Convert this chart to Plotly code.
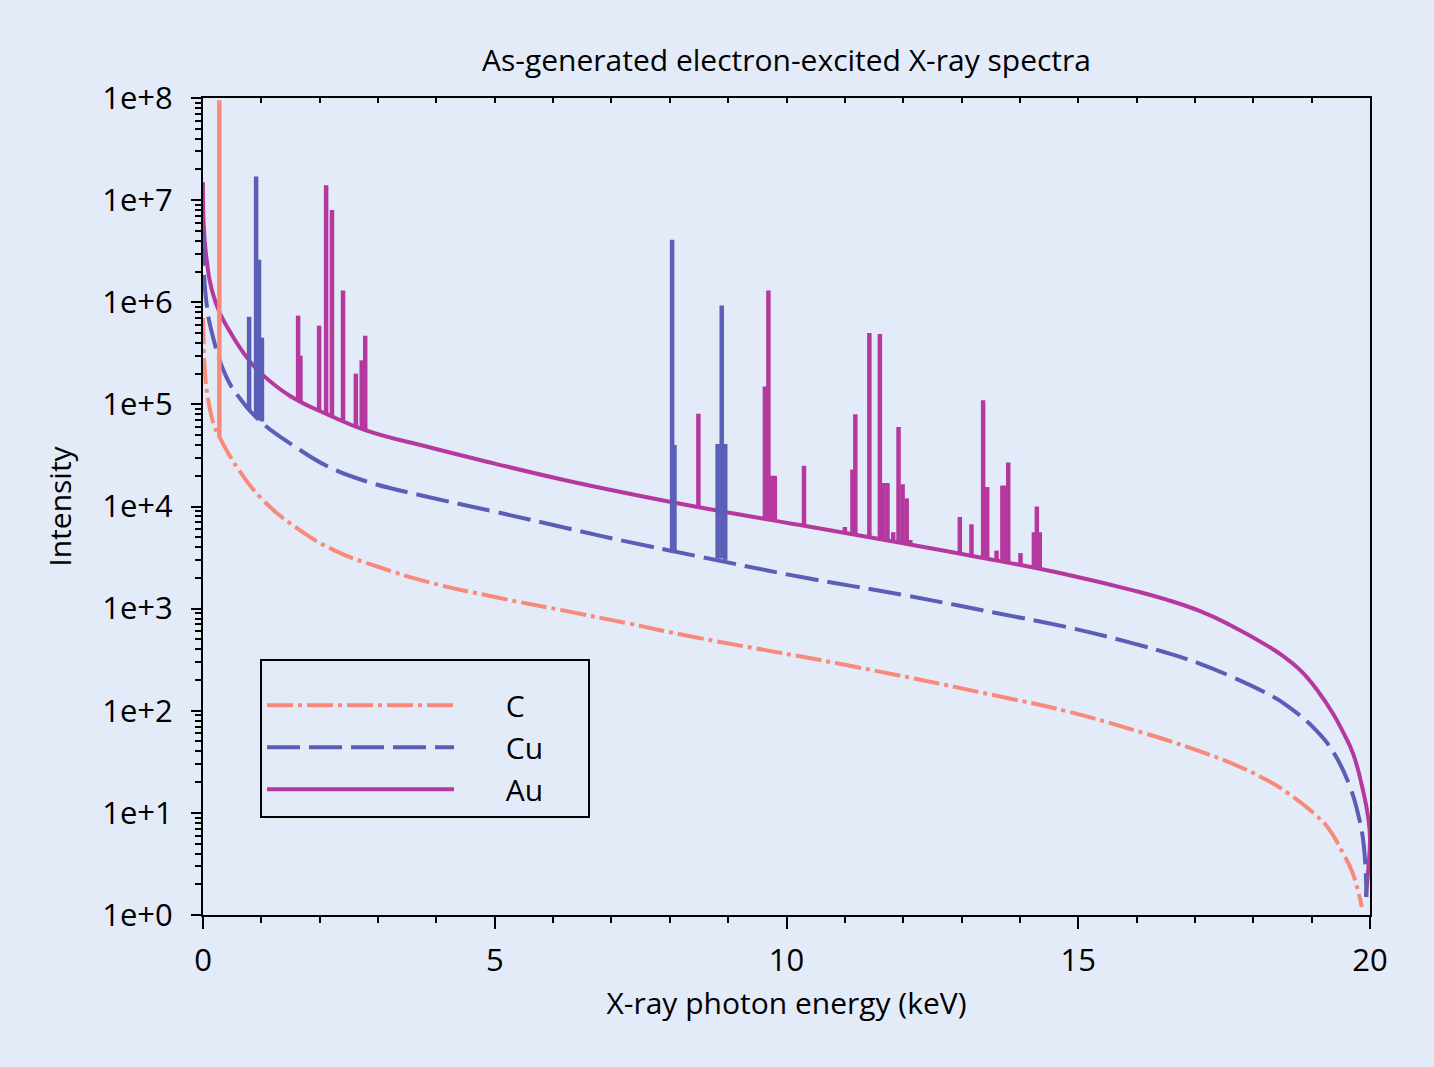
import plotly.graph_objects as go

# ---------------- data ----------------
energy_C = [0.0, 0.01, 0.03, 0.09, 0.2, 0.29, 0.45, 0.61, 1.0, 1.58, 2.26, 3.0, 3.86, 5.0,
            6.15, 7.29, 8.43, 11.0, 13.66, 14.8, 15.94, 16.5, 17.09, 17.6, 18.23, 18.6,
            19.09, 19.3, 19.54, 19.7, 19.86]
intensity_C = [7.0e5, 4.3e5, 2.2e5, 1.1e5, 6.0e4, 4.7e4, 3.2e4, 2.3e4, 1.2e4, 6.3e3, 3.7e3,
               2.57e3, 1.82e3, 1.3e3, 966, 716, 525, 282, 138, 99, 65, 52, 40, 31, 21, 15.5,
               9.3, 6.9, 4.0, 2.6, 1.2]

energy_Cu = [0.0, 0.05, 0.17, 0.4, 0.62, 0.95, 1.58, 2.15, 2.83, 3.86, 5.0, 6.15, 7.29, 8.43,
             10.23, 12.0, 13.66, 14.8, 15.94, 16.5, 17.09, 17.6, 18.23, 18.6, 19.09, 19.4,
             19.66, 19.8, 19.89, 19.94]
intensity_Cu = [4.8e6, 1.1e6, 4.6e5, 1.86e5, 1.17e5, 7.1e4, 3.85e4, 2.45e4, 1.74e4, 1.24e4,
                8.9e3, 6.3e3, 4.5e3, 3.3e3, 2.05e3, 1.36e3, 890, 660, 457, 372, 288, 219,
                148, 110, 63, 37, 17.8, 9.5, 5.0, 1.5]

energy_Au = [0.0, 0.05, 0.22, 0.45, 0.79, 1.0, 1.5, 2.15, 2.78, 3.86, 5.0, 6.15, 7.29, 8.43,
             10.23, 12.0, 13.66, 14.8, 15.94, 16.5, 17.09, 17.6, 18.23, 18.5, 18.8, 19.1,
             19.37, 19.55, 19.71, 19.88, 19.97, 20.0, 19.97, 19.93]
intensity_Au = [1.5e7, 3.0e6, 9.8e5, 5.3e5, 2.7e5, 2.0e5, 1.2e5, 7.9e4, 5.6e4, 3.82e4, 2.63e4,
                1.84e4, 1.34e4, 1.0e4, 6.58e3, 4.37e3, 2.92e3, 2.16e3, 1.51e3, 1.23e3, 944,
                692, 437, 347, 251, 158, 93, 60, 38, 16.6, 8.9, 5.6, 2.8, 1.5]

# characteristic peaks: energy, peak top, continuum base
peak_E_C = [0.28]
peak_top_C = [9.5e7]
peak_base_C = [4.8e4]

peak_E_Cu = [0.79, 0.91, 0.96, 1.01, 8.04, 8.08, 8.82, 8.89, 8.95]
peak_top_Cu = [7.2e5, 1.7e7, 2.6e6, 4.5e5, 4.1e6, 4.0e4, 4.1e4, 9.3e5, 4.1e4]
peak_base_Cu = [9.0e4, 7.5e4, 7.0e4, 6.8e4, 3.5e3, 3.5e3, 3.1e3, 3.1e3, 3.0e3]

peak_E_Au = [1.63, 1.67, 1.99, 2.11, 2.21, 2.40, 2.62, 2.72, 2.78, 8.49, 9.63, 9.69, 9.74,
             9.80, 10.30, 11.00, 11.13, 11.18, 11.42, 11.60, 11.66, 11.73, 11.83, 11.92,
             11.99, 12.06, 12.12, 12.97, 13.17, 13.37, 13.44, 13.60, 13.70, 13.74, 13.80,
             14.01, 14.24, 14.29, 14.34]
peak_top_Au = [7.4e5, 3.0e5, 5.9e5, 1.4e7, 8.0e6, 1.3e6, 2.0e5, 2.7e5, 4.7e5, 8.1e4, 1.5e5,
               1.3e6, 2.0e4, 2.0e4, 2.5e4, 6.3e3, 2.3e4, 8.0e4, 5.0e5, 4.9e5, 1.7e4, 1.7e4,
               5.6e3, 6.0e4, 1.65e4, 1.2e4, 4.7e3, 7.9e3, 6.7e3, 1.1e5, 1.55e4, 3.7e3, 1.6e4,
               1.6e4, 2.7e4, 3.5e3, 5.6e3, 1.0e4, 5.6e3]
peak_base_Au = [1.1e5, 1.07e5, 8.7e4, 8.1e4, 7.7e4, 6.9e4, 6.2e4, 5.9e4, 5.6e4, 1.0e4, 7.7e3,
                7.6e3, 7.5e3, 7.4e3, 6.4e3, 5.5e3, 5.3e3, 5.2e3, 5.0e3, 4.8e3, 4.7e3, 4.6e3,
                4.5e3, 4.4e3, 4.35e3, 4.3e3, 4.2e3, 3.4e3, 3.25e3, 3.1e3, 3.05e3, 2.95e3, 2.9e3,
                2.85e3, 2.8e3, 2.65e3, 2.5e3, 2.45e3, 2.4e3]

decade_vals = [1, 10, 100, 1e3, 1e4, 1e5, 1e6, 1e7, 1e8]
decade_text = ["1e+0", "1e+1", "1e+2", "1e+3", "1e+4", "1e+5", "1e+6", "1e+7", "1e+8"]
x_major = [0, 5, 10, 15, 20]
x_all = list(range(0, 21))
series_names = ["C", "Cu", "Au"]

# ---------------- styles ----------------
BG = "#E3EBF8"
COL_C = "#F88A7B"
COL_CU = "#5B5EB6"
COL_AU = "#B5389F"
FONT = "Open Sans"
DASH_CU = "33px,9px"
DASH_C = "26px,5px,4px,5px"
LW = 4
PW = 4.5
SMOOTH = 1.3
NB = "\u00a0"


def segments(E, top, base):
    xs, ys = [], []
    for e, t, b in zip(E, top, base):
        xs += [e, e, None]
        ys += [b, t, None]
    return xs, ys


def legend_name(n):
    return NB * 6 + n + NB * 5


fig = go.Figure()

# Au (drawn first, bottom)
xs, ys = segments(peak_E_Au, peak_top_Au, peak_base_Au)
fig.add_trace(go.Scatter(x=xs, y=ys, mode="lines", line=dict(color=COL_AU, width=PW),
                         showlegend=False, hoverinfo="skip"))
fig.add_trace(go.Scatter(x=energy_Au, y=intensity_Au, mode="lines", name=legend_name(series_names[2]),
                         line=dict(color=COL_AU, width=LW, shape="spline", smoothing=SMOOTH),
                         legendrank=3))

# Cu
xs, ys = segments(peak_E_Cu, peak_top_Cu, peak_base_Cu)
fig.add_trace(go.Scatter(x=xs, y=ys, mode="lines", line=dict(color=COL_CU, width=PW),
                         showlegend=False, hoverinfo="skip"))
fig.add_trace(go.Scatter(x=energy_Cu, y=intensity_Cu, mode="lines", name=legend_name(series_names[1]),
                         line=dict(color=COL_CU, width=LW, dash=DASH_CU, shape="spline", smoothing=SMOOTH),
                         legendrank=2))

# C
xs, ys = segments(peak_E_C, peak_top_C, peak_base_C)
fig.add_trace(go.Scatter(x=xs, y=ys, mode="lines", line=dict(color=COL_C, width=PW),
                         showlegend=False, hoverinfo="skip"))
fig.add_trace(go.Scatter(x=energy_C, y=intensity_C, mode="lines", name=legend_name(series_names[0]),
                         line=dict(color=COL_C, width=LW, dash=DASH_C, shape="spline", smoothing=SMOOTH),
                         legendrank=1))

# invisible helper trace for the top tick axis
fig.add_trace(go.Scatter(x=[0, 20], y=[1, 1], xaxis="x2", mode="lines", opacity=0,
                         showlegend=False, hoverinfo="skip"))

fig.update_layout(
    width=1434, height=1067,
    paper_bgcolor=BG, plot_bgcolor=BG,
    margin=dict(l=203, r=64, t=98, b=152),
    font=dict(family=FONT, color="black", size=26),
    title=dict(text="As-generated electron-excited X-ray spectra", xref="paper", x=0.5,
               xanchor="center", y=1 - 60 / 1067, yanchor="middle",
               font=dict(size=30, family=FONT)),
    showlegend=True,
    legend=dict(x=(260 - 203) / 1167, xanchor="left", y=(915 - 659) / 817, yanchor="top",
                bgcolor=BG, bordercolor="black", borderwidth=2,
                font=dict(size=30, family=FONT), itemwidth=187,
                title=dict(text=NB, font=dict(size=14)),
                traceorder="normal", tracegroupgap=8),
    xaxis=dict(range=[0, 20], showgrid=False, zeroline=False,
               showline=True, linecolor="black", linewidth=2, mirror=True,
               tickmode="array", tickvals=x_major, ticktext=[str(v) for v in x_major],
               ticks="outside", ticklen=12, tickwidth=2, tickcolor="black",
               tickfont=dict(size=31), ticklabelstandoff=5,
               minor=dict(tickvals=x_all, ticks="outside", ticklen=6, tickwidth=2, tickcolor="black"),
               title=dict(text="X-ray photon energy (keV)", font=dict(size=30), standoff=14)),
    xaxis2=dict(range=[0, 20], overlaying="x", side="top", showgrid=False, zeroline=False,
                showline=False, tickmode="array", tickvals=x_all, ticks="inside", ticklen=5,
                tickwidth=2, tickcolor="black", showticklabels=False),
    yaxis=dict(type="log", range=[0, 8], showgrid=False, zeroline=False,
               showline=True, linecolor="black", linewidth=2, mirror=True,
               tickmode="array", tickvals=decade_vals, ticktext=decade_text,
               ticks="outside", ticklen=10, tickwidth=2, tickcolor="black",
               tickfont=dict(size=31), ticklabelstandoff=12,
               minor=dict(dtick="D1", ticks="outside", ticklen=6, tickwidth=2, tickcolor="black"),
               title=dict(text="Intensity", font=dict(size=30), standoff=22)),
)

fig.write_html("out.html")
